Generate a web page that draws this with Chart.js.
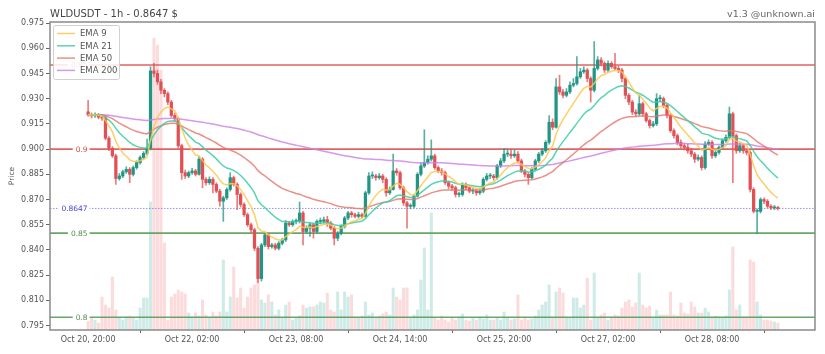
<!DOCTYPE html>
<html>
<head>
<meta charset="utf-8">
<script src="https://cdn.jsdelivr.net/npm/chart.js@4.4.1/dist/chart.umd.min.js"></script>
<style>
    body { margin: 0; background: #ffffff; }
    canvas { display: block; }
</style>
</head>
<body>
<canvas id="wld-chart" width="825" height="354"></canvas>
<script>
// WLDUSDT 1h candles, index = hours since Oct 20, 20:00
const opens = [
    .9222,.9205,.9198,.9202,.9190,.9185,.9065,.9005,.8960,.8825,
    .8840,.8865,.8880,.8850,.8890,.8920,.8950,.8975,.9005,.9465,
    .9450,.9400,.9350,.9330,.9280,.9200,.9180,.9020,.8860,.8840,
    .8860,.8870,.8850,.8940,.8820,.8800,.8820,.8790,.8750,.8690,
    .8710,.8760,.8830,.8790,.8730,.8670,.8610,.8550,.8520,.8410,
    .8230,.8430,.8490,.8420,.8430,.8410,.8440,.8460,.8560,.8550,
    .8570,.8570,.8620,.8510,.8530,.8550,.8510,.8570,.8570,.8580,
    .8560,.8530,.8470,.8500,.8540,.8590,.8620,.8610,.8600,.8610,
    .8600,.8740,.8840,.8840,.8830,.8840,.8820,.8740,.8760,.8870,
    .8860,.8770,.8680,.8660,.8660,.8720,.8850,.8900,.8920,.8940,
    .8960,.8890,.8870,.8860,.8800,.8780,.8770,.8730,.8730,.8790,
    .8770,.8750,.8750,.8740,.8750,.8820,.8840,.8840,.8830,.8900,
    .8930,.8970,.8970,.8960,.8970,.8930,.8870,.8850,.8830,.8880,
    .8930,.8970,.8990,.9040,.9160,.9130,.9370,.9340,.9320,.9340,
    .9380,.9390,.9430,.9460,.9470,.9420,.9350,.9480,.9530,.9510,
    .9470,.9510,.9490,.9480,.9470,.9420,.9320,.9280,.9220,.9210,
    .9270,.9210,.9170,.9140,.9150,.9300,.9300,.9260,.9200,.9110,
    .9080,.9040,.9020,.9010,.8990,.8970,.8940,.8950,.8890,.9030,
    .9040,.8960,.8980,.9010,.9050,.9070,.9210,.9080,.8990,.9020,
    .8990,.8980,.8760,.8630,.8630,.8700,.8690,.8660,.8650,.8650
]
const highs = [
    .9290,.9215,.9215,.9212,.9205,.9195,.9075,.9015,.8970,.8855,
    .8875,.8895,.8890,.8900,.8930,.8960,.8985,.9060,.9490,.9510,
    .9470,.9415,.9360,.9340,.9290,.9215,.9190,.9030,.8875,.8870,
    .8885,.8880,.8955,.8950,.8830,.8835,.8830,.8800,.8760,.8720,
    .8770,.8860,.8840,.8800,.8740,.8680,.8620,.8560,.8530,.8420,
    .8440,.8500,.8500,.8440,.8440,.8450,.8470,.8575,.8570,.8580,
    .8585,.8685,.8630,.8545,.8565,.8560,.8580,.8590,.8595,.8600,
    .8570,.8540,.8510,.8550,.8600,.8630,.8630,.8620,.8625,.8620,
    .8750,.8860,.8865,.8850,.8855,.8850,.8830,.8775,.8970,.8885,
    .8870,.8780,.8690,.8675,.8730,.8860,.8915,.9115,.8960,.9055,
    .8970,.8900,.8885,.8870,.8810,.8790,.8780,.8745,.8800,.8800,
    .8780,.8765,.8760,.8765,.8830,.8855,.8855,.8850,.8910,.8945,
    .9005,.9000,.9000,.8995,.8985,.8940,.8880,.8860,.8890,.8940,
    .8980,.9005,.9050,.9200,.9180,.9420,.9440,.9355,.9360,.9400,
    .9420,.9550,.9480,.9490,.9480,.9430,.9640,.9550,.9545,.9520,
    .9525,.9520,.9570,.9495,.9480,.9430,.9330,.9290,.9235,.9320,
    .9280,.9220,.9180,.9165,.9330,.9320,.9310,.9270,.9210,.9120,
    .9090,.9055,.9035,.9030,.9005,.8980,.8965,.8960,.9045,.9055,
    .9050,.8995,.9020,.9060,.9085,.9250,.9220,.9090,.9035,.9030,
    .9000,.8990,.8770,.8645,.8710,.8710,.8700,.8670,.8665,.8660
]
const lows = [
    .9195,.9185,.9188,.9180,.9170,.9055,.8990,.8950,.8790,.8815,
    .8830,.8855,.8800,.8840,.8880,.8910,.8940,.8965,.8995,.9430,
    .9385,.9330,.9310,.9265,.9190,.9165,.9005,.8820,.8825,.8830,
    .8850,.8840,.8845,.8770,.8785,.8790,.8740,.8740,.8660,.8570,
    .8700,.8750,.8780,.8640,.8655,.8600,.8540,.8505,.8395,.8205,
    .8215,.8420,.8405,.8410,.8400,.8400,.8430,.8450,.8540,.8540,
    .8555,.8560,.8430,.8500,.8480,.8470,.8500,.8555,.8560,.8540,
    .8520,.8430,.8455,.8490,.8530,.8580,.8595,.8590,.8590,.8590,
    .8595,.8730,.8825,.8815,.8820,.8800,.8720,.8730,.8755,.8845,
    .8760,.8665,.8530,.8645,.8650,.8715,.8840,.8890,.8910,.8930,
    .8880,.8860,.8845,.8790,.8765,.8755,.8715,.8715,.8720,.8760,
    .8740,.8735,.8725,.8730,.8740,.8810,.8825,.8815,.8820,.8890,
    .8920,.8955,.8945,.8950,.8920,.8860,.8835,.8790,.8820,.8870,
    .8920,.8960,.8980,.9030,.9115,.9125,.9325,.9305,.9310,.9330,
    .9370,.9380,.9420,.9450,.9400,.9280,.9340,.9470,.9495,.9455,
    .9460,.9480,.9470,.9455,.9400,.9300,.9265,.9205,.9195,.9200,
    .9195,.9160,.9125,.9130,.9140,.9285,.9245,.9185,.9100,.9065,
    .9025,.9005,.8995,.8975,.8955,.8920,.8930,.8875,.8880,.9020,
    .8945,.8950,.8970,.9000,.9040,.9060,.8800,.8975,.8980,.8975,
    .8965,.8745,.8620,.8500,.8620,.8675,.8650,.8640,.8640,.8638
]
const closes = [
    .9205,.9198,.9202,.9190,.9185,.9065,.9005,.8960,.8825,.8840,
    .8865,.8880,.8850,.8890,.8920,.8950,.8975,.9005,.9465,.9450,
    .9400,.9350,.9330,.9280,.9200,.9180,.9020,.8860,.8840,.8860,
    .8870,.8850,.8940,.8820,.8800,.8820,.8790,.8750,.8690,.8710,
    .8760,.8830,.8790,.8730,.8670,.8610,.8550,.8520,.8410,.8230,
    .8430,.8490,.8420,.8430,.8410,.8440,.8460,.8560,.8550,.8570,
    .8570,.8620,.8510,.8530,.8550,.8510,.8570,.8570,.8580,.8560,
    .8530,.8470,.8500,.8540,.8590,.8620,.8610,.8600,.8610,.8600,
    .8740,.8840,.8840,.8830,.8840,.8820,.8740,.8760,.8870,.8860,
    .8770,.8680,.8660,.8660,.8720,.8850,.8900,.8920,.8940,.8960,
    .8890,.8870,.8860,.8800,.8780,.8770,.8730,.8730,.8790,.8770,
    .8750,.8750,.8740,.8750,.8820,.8840,.8840,.8830,.8900,.8930,
    .8970,.8970,.8960,.8970,.8930,.8870,.8850,.8830,.8880,.8930,
    .8970,.8990,.9040,.9160,.9130,.9370,.9340,.9320,.9340,.9380,
    .9390,.9430,.9460,.9470,.9420,.9350,.9480,.9530,.9510,.9470,
    .9510,.9490,.9480,.9470,.9420,.9320,.9280,.9220,.9210,.9270,
    .9210,.9170,.9140,.9150,.9300,.9300,.9260,.9200,.9110,.9080,
    .9040,.9020,.9010,.8990,.8970,.8940,.8950,.8890,.9030,.9040,
    .8960,.8980,.9010,.9050,.9070,.9210,.9080,.8990,.9020,.8990,
    .8980,.8760,.8630,.8630,.8700,.8690,.8660,.8650,.8650,.8647
]
// relative volume (k)
const volume = [
    10,12,10,7,33,25,22,53,20,12,
    10,13,14,12,10,22,32,32,128,292,
    285,260,87,10,33,36,40,38,36,17,
    13,17,14,30,15,12,18,14,18,70,
    18,33,63,32,42,22,33,42,45,52,
    30,27,35,28,15,20,12,25,28,10,
    12,14,25,22,23,23,25,28,27,37,
    20,18,38,20,38,33,35,13,12,14,
    28,15,17,12,14,16,18,15,42,33,
    30,42,42,12,15,20,50,82,20,117,
    12,10,14,10,8,12,10,13,16,10,
    9,12,10,13,11,15,10,10,12,10,
    18,12,10,11,35,10,12,10,11,14,
    20,25,28,45,13,38,42,37,13,12,
    32,32,22,25,52,10,57,12,15,17,
    10,13,15,14,22,28,30,23,27,57,
    25,22,24,12,20,15,15,15,38,15,
    14,27,17,16,28,23,17,17,22,18,
    13,14,13,12,14,40,83,20,25,13,
    13,70,68,28,15,10,10,9,8,7
]

const priceTicks = [0.795, 0.81, 0.825, 0.84, 0.855, 0.87, 0.885, 0.9, 0.915, 0.93, 0.945, 0.96, 0.975]
const timeTicks = [0, 30, 60, 90, 120, 150, 180]
const timeLabels = ['Oct 20, 20:00', 'Oct 22, 02:00', 'Oct 23, 08:00', 'Oct 24, 14:00', 'Oct 25, 20:00', 'Oct 27, 02:00', 'Oct 28, 08:00']
const levels = [0.95, 0.9, 0.85, 0.8]
const lastPrice = 0.8647
const emaSpans = [9, 21, 50, 200]
const emaColors = ['rgba(250,200,80,0.85)', 'rgba(60,205,165,0.85)', 'rgba(230,115,105,0.8)', 'rgba(205,125,230,0.8)']

const X_MIN = -11
const X_MAX = 209.7
const GREEN = 'rgb(34,150,132)'
const RED = 'rgb(225,80,84)'

function ema(values, span) {
    const k = 2 / (span + 1)
    let prev = values[0]
    return values.map(v => prev = prev + k * (v - prev))
}

const up = closes.map((c, i) => c >= opens[i])

let datasets = []

emaSpans.forEach((span, n) => {
    const line = ema(closes, span)
    datasets.push({
        type: 'line',
        label: 'EMA ' + span,
        data: line.map((v, i) => ({x: i, y: v})),
        borderColor: emaColors[n],
        borderWidth: 1.5,
        pointRadius: 0,
        tension: 0,
        order: 1 + n
    })
})

datasets.push({
    type: 'bar',
    label: 'body',
    data: closes.map((c, i) => ({x: i, y: [opens[i], c]})),
    backgroundColor: up.map(u => u ? GREEN : RED),
    barThickness: 2.6,
    minBarLength: 1,
    grouped: false,
    order: 6
})

datasets.push({
    type: 'bar',
    label: 'wick',
    data: highs.map((h, i) => ({x: i, y: [lows[i], h]})),
    backgroundColor: up.map(u => u ? 'rgba(34,150,132,0.75)' : 'rgba(225,80,84,0.75)'),
    barThickness: 1,
    grouped: false,
    order: 7
})

levels.forEach(lv => {
    datasets.push({
        type: 'line',
        label: 'level ' + lv,
        data: [{x: X_MIN, y: lv}, {x: X_MAX, y: lv}],
        borderColor: lv > lastPrice ? 'rgba(220,70,70,0.85)' : 'rgba(90,155,90,0.9)',
        borderWidth: 1.6,
        pointRadius: 0,
        order: 9
    })
})

datasets.push({
    type: 'line',
    label: 'last',
    data: [{x: X_MIN, y: lastPrice}, {x: X_MAX, y: lastPrice}],
    borderColor: 'rgba(120,120,235,0.8)',
    borderWidth: 1,
    borderDash: [1.5, 1.5],
    pointRadius: 0,
    order: 9
})

datasets.push({
    type: 'bar',
    label: 'Volume',
    yAxisID: 'yv',
    data: volume.map((v, i) => ({x: i, y: v})),
    backgroundColor: up.map(u => u ? 'rgba(34,166,150,0.22)' : 'rgba(240,90,95,0.22)'),
    barThickness: 2.4,
    grouped: false,
    order: 12
})

const decorations = {
    id: 'decorations',
    afterDatasetsDraw(chart) {
        const ctx = chart.ctx
        const x = chart.scales.x
        const y = chart.scales.y
        const xr = x.getPixelForValue(0) - 0.5
        ctx.save()
        ctx.font = '7.5px "DejaVu Sans"'
        ctx.textAlign = 'right'
        ctx.textBaseline = 'middle'
        const labelled = [...levels.map(lv => [lv, String(lv), lv > lastPrice ? 'rgb(215,70,70)' : 'rgb(80,145,80)']),
                          [lastPrice, String(lastPrice), 'rgb(70,70,220)']]
        labelled.forEach(([lv, txt, col]) => {
            const py = y.getPixelForValue(lv)
            const w = ctx.measureText(txt).width
            ctx.fillStyle = '#ffffff'
            ctx.fillRect(xr - w - 3, py - 4, w + 5, 8)
            ctx.fillStyle = col
            ctx.fillText(txt, xr, py + 0.5)
        })

        // legend
        const lx = 53, ly = 25, lw = 66, lh = 54
        ctx.fillStyle = 'rgba(255,255,255,0.85)'
        ctx.strokeStyle = '#d0d0d0'
        ctx.lineWidth = 1
        ctx.beginPath()
        ctx.roundRect(lx + 0.5, ly + 0.5, lw, lh, 2)
        ctx.fill()
        ctx.stroke()
        ctx.textAlign = 'left'
        ctx.font = '8.5px "DejaVu Sans"'
        chart.data.datasets.slice(0, emaSpans.length).forEach((ds, n) => {
            const ry = ly + 8.5 + n * 12.3
            ctx.strokeStyle = ds.borderColor
            ctx.lineWidth = 1.5
            ctx.beginPath()
            ctx.moveTo(lx + 4, ry)
            ctx.lineTo(lx + 22, ry)
            ctx.stroke()
            ctx.fillStyle = '#555'
            ctx.fillText(ds.label, lx + 27, ry + 0.5)
        })

        // frame
        const a = chart.chartArea
        ctx.strokeStyle = '#8a8a8a'
        ctx.lineWidth = 1.5
        ctx.strokeRect(a.left, a.top, a.right - a.left, a.bottom - a.top)

        // titles
        ctx.fillStyle = '#444'
        ctx.font = '10px "DejaVu Sans"'
        ctx.textAlign = 'left'
        ctx.fillText('WLDUSDT - 1h - ' + lastPrice + ' $', a.left, 14)
        ctx.fillStyle = '#666'
        ctx.font = '9.5px "DejaVu Sans"'
        ctx.textAlign = 'right'
        ctx.fillText('v1.3 @unknown.ai', a.right, 15)
        ctx.restore()
    }
}

Chart.defaults.font.family = '"DejaVu Sans", sans-serif'

let wldChart = new Chart(document.getElementById('wld-chart'), {
    type: 'bar',
    data: { datasets: datasets },
    options: {
        responsive: false,
        animation: false,
        layout: {
            padding: { top: 22, right: 10, left: 0, bottom: 0 }
        },
        plugins: {
            legend: { display: false },
            tooltip: { enabled: false }
        },
        scales: {
            x: {
                type: 'linear',
                min: X_MIN,
                max: X_MAX,
                offset: false,
                grid: { drawOnChartArea: false, tickLength: 3, color: '#666' },
                border: { display: false },
                afterBuildTicks: scale => { scale.ticks = timeTicks.map(v => ({value: v})) },
                afterFit: scale => { scale.height = 24 },
                ticks: {
                    autoSkip: false,
                    maxRotation: 0,
                    padding: 2,
                    color: '#555',
                    font: { size: 8 },
                    callback: value => timeLabels[timeTicks.indexOf(value)]
                }
            },
            y: {
                min: 0.7924,
                max: 0.9756,
                grid: { drawOnChartArea: false, tickLength: 4, color: '#666' },
                border: { display: false },
                afterBuildTicks: scale => { scale.ticks = priceTicks.map(v => ({value: v})) },
                afterFit: scale => { scale.width = 50 },
                title: {
                    display: true,
                    text: 'Price',
                    color: '#555',
                    font: { size: 7.5 },
                    padding: { top: 8, bottom: 0 }
                },
                ticks: {
                    padding: 2,
                    color: '#555',
                    font: { size: 8 },
                    callback: value => value.toFixed(3)
                }
            },
            yv: {
                display: false,
                min: 0,
                max: 308
            }
        }
    },
    plugins: [decorations]
})
</script>
</body>
</html>
